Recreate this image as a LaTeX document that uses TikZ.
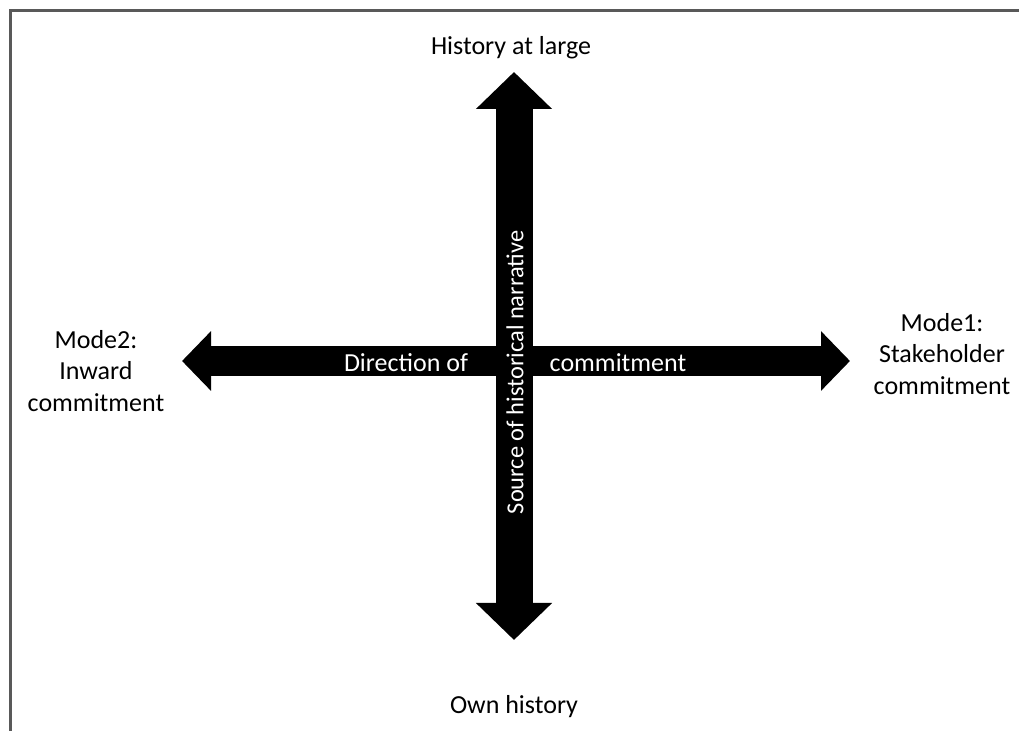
\documentclass[tikz,border=0pt]{standalone}
\usepackage{fontspec}
\setmainfont{Carlito}
\usetikzlibrary{arrows.meta}
\tikzset{
  lbl/.style={font=\fontsize{13}{15.6}\selectfont, align=center, inner sep=0pt},
  inlbl/.style={lbl, text=white},
  bighead/.tip={Triangle[width=37pt,length=18.5pt]},
  smallhead/.tip={Triangle[width=29pt,length=14.5pt]}
}
\begin{document}
\begin{tikzpicture}[x=0.5pt,y=-0.5pt]
\useasboundingbox (0,0) rectangle (1019,731);
\path[draw, line width=1.5pt, color=black!65] (10,731) -- (10,10.5) -- (1019,10.5);

\coordinate (top) at (514,72);
\coordinate (bot) at (514,640);
\coordinate (lt) at (182,361);
\coordinate (rt) at (850,361);
\path[draw, line width=15pt, smallhead-smallhead] (lt) -- (rt);
\path[draw, line width=18.5pt, bighead-bighead] (top) -- (bot);

\node[lbl] (hist) at (511,48) {History at large};
\node[lbl] (own) at (514,707) {Own history};
\node[lbl] (mode2) at (96,371) {Mode2:\\Inward\\commitment};
\node[lbl] (mode1) at (942,354) {Mode1:\\Stakeholder\\commitment};

\node[inlbl] (dir) at (406,363) {Direction of};
\node[inlbl] (com) at (618,363) {commitment};
\node[inlbl, rotate=90, font=\fontsize{12.2}{14.6}\selectfont] (src) at (515,372.5) {Source of historical narrative};
\end{tikzpicture}
\end{document}
